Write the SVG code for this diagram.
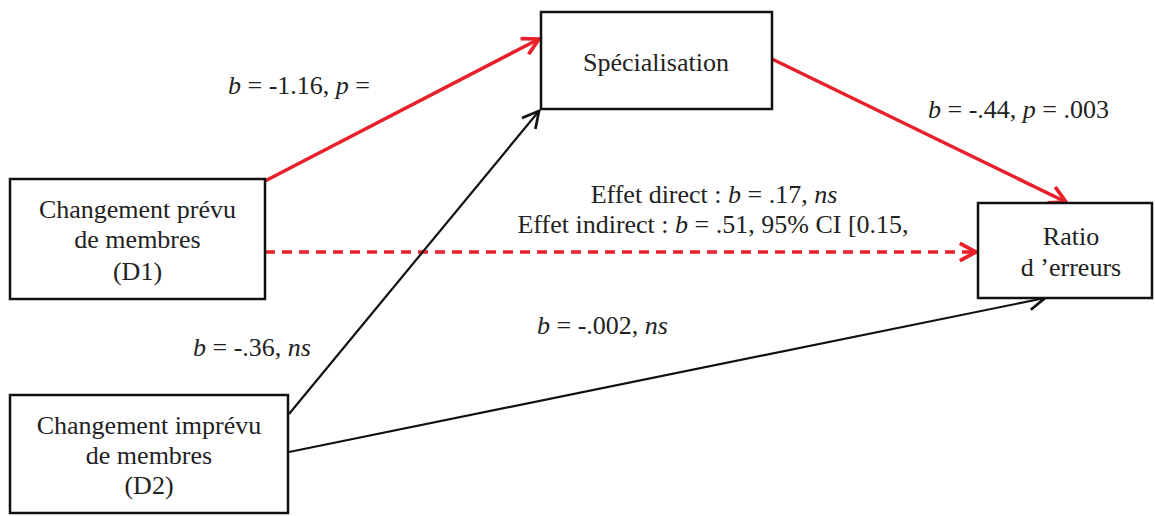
<svg xmlns="http://www.w3.org/2000/svg" width="1155" height="516" viewBox="0 0 1155 516">
<style>
.box{fill:#fff;stroke:#111;stroke-width:2.5}
.t{font-family:'Liberation Serif',Tinos,'Times New Roman','DejaVu Serif',serif;font-size:26px;fill:#222}
.c{text-anchor:middle}
.i{font-style:italic}
.red{stroke:#e8202a;stroke-width:3.5;fill:none}
.blk{stroke:#111;stroke-width:2.2;fill:none}
</style>
<defs>
<marker id="ar" markerUnits="userSpaceOnUse" markerWidth="20" markerHeight="20" refX="14" refY="8" orient="auto" viewBox="0 0 16 16">
<path d="M1,1 L14,8 L1,15" fill="none" stroke="#e8202a" stroke-width="3"/>
</marker>
<marker id="ab" markerUnits="userSpaceOnUse" markerWidth="20" markerHeight="20" refX="14" refY="8" orient="auto" viewBox="0 0 16 16">
<path d="M1,1 L14,8 L1,15" fill="none" stroke="#111" stroke-width="2.2"/>
</marker>
</defs>
<g id="connectors">
<line class="red" x1="265" y1="181" x2="539" y2="39" marker-end="url(#ar)"/>
<line class="red" x1="772" y1="59" x2="1066" y2="202" marker-end="url(#ar)"/>
<line class="red" x1="265" y1="252" x2="976" y2="252" stroke-width="2.5" stroke-dasharray="10,7" marker-end="url(#ar)"/>
<line class="blk" x1="289" y1="414" x2="539" y2="111" marker-end="url(#ab)"/>
<line class="blk" x1="289" y1="452" x2="1045" y2="298" marker-end="url(#ab)"/>
</g>
<g id="specialisation">
<rect class="box" x="541" y="12" width="231" height="97"/>
<text class="t c" x="656" y="71" font-family="Liberation Serif, serif">Spécialisation</text>
</g>
<g id="d1">
<rect class="box" x="10" y="179" width="255" height="120"/>
<text class="t c" x="137.5" y="218">Changement prévu</text>
<text class="t c" x="137.5" y="248">de membres</text>
<text class="t c" x="137.5" y="280">(D1)</text>
</g>
<g id="ratio">
<rect class="box" x="978" y="203" width="174" height="95"/>
<text class="t c" x="1071" y="245">Ratio</text>
<text class="t c" x="1071" y="276">d ’erreurs</text>
</g>
<g id="d2">
<rect class="box" x="10" y="395" width="278" height="118"/>
<text class="t c" x="149" y="434">Changement imprévu</text>
<text class="t c" x="149" y="464">de membres</text>
<text class="t c" x="149" y="494">(D2)</text>
</g>
<g id="labels">
<text class="t" x="228" y="94"><tspan class="i">b</tspan> = -1.16, <tspan class="i">p</tspan> =</text>
<text class="t" x="928" y="118"><tspan class="i">b</tspan> = -.44, <tspan class="i">p</tspan> = .003</text>
<text class="t c" x="714" y="203">Effet direct : <tspan class="i">b</tspan> = .17, <tspan class="i">ns</tspan></text>
<text class="t c" x="713" y="233">Effet indirect : <tspan class="i">b</tspan> = .51, 95% CI [0.15,</text>
<text class="t" x="193" y="356"><tspan class="i">b</tspan> = -.36, <tspan class="i">ns</tspan></text>
<text class="t" x="537" y="334"><tspan class="i">b</tspan> = -.002, <tspan class="i">ns</tspan></text>
</g>
</svg>
